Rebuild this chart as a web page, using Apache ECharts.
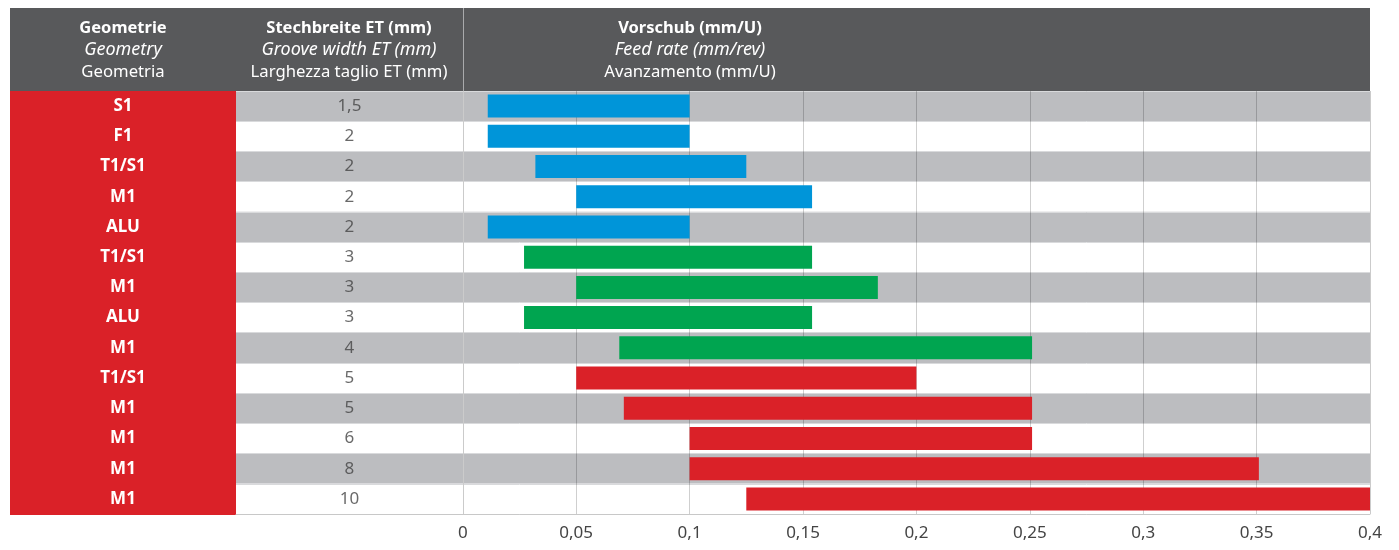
<!DOCTYPE html>
<html>
<head>
<meta charset="utf-8">
<script src="https://cdn.jsdelivr.net/npm/echarts@6/dist/echarts.min.js"></script>
<style>
html,body{margin:0;padding:0;background:#fff;}
#chart{width:1399px;height:550px;}
</style>
</head>
<body>
<div id="chart"></div>
<script>
// ---- data ----
var geometry = ['S1','F1','T1/S1','M1','ALU','T1/S1','M1','ALU','M1','T1/S1','M1','M1','M1','M1'];
var grooveWidth = ['1,5','2','2','2','2','3','3','3','4','5','5','6','8','10'];
var feedMin = [0.011,0.011,0.032,0.05,0.011,0.027,0.05,0.027,0.069,0.05,0.071,0.1,0.1,0.125];
var feedMax = [0.1,0.1,0.125,0.154,0.1,0.154,0.183,0.154,0.251,0.2,0.251,0.251,0.351,0.4];
var xTicks = [0,0.05,0.1,0.15,0.2,0.25,0.3,0.35,0.4];
var headers = [
  ['Geometrie','Geometry','Geometria'],
  ['Stechbreite ET (mm)','Groove width ET (mm)','Larghezza taglio ET (mm)'],
  ['Vorschub (mm/U)','Feed rate (mm/rev)','Avanzamento (mm/U)']
];

var FONT = 'Noto Sans';
var BLUE = '#0095d9', GREEN = '#00a550', RED = '#da2128';
function widthNum(s){ return parseFloat(s.replace(',', '.')); }
function barColor(i){
  var w = widthNum(grooveWidth[i]);
  return w < 3 ? BLUE : (w < 5 ? GREEN : RED);
}

var chart = echarts.init(document.getElementById('chart'));

var splitColors = ['rgba(0,0,0,0)','rgba(0,0,0,0)','#cbcbcb'];
for (var k = 1; k < xTicks.length - 1; k++) splitColors.push('rgba(0,0,0,0.19)');
splitColors.push('#cbcbcb');

var headerCenters = [123, 349, 690];
var graphics = [
  {type:'rect', shape:{x:10,y:8,width:1360,height:83}, style:{fill:'#58595b'}, z:10},
  {type:'line', shape:{x1:463.5,y1:8,x2:463.5,y2:91}, style:{stroke:'#a9aaac',lineWidth:1}, z:11},
  {type:'rect', shape:{x:10,y:91,width:226,height:424}, style:{fill:RED}, z:-1}
];
var headerStyles = [
  {st:'normal', w:'bold', size:16.5},
  {st:'italic', w:'normal', size:18},
  {st:'normal', w:'normal', size:16.7}
];
headers.forEach(function(h, c){
  var ys = [28, 50, 72];
  h.forEach(function(t, r){
    var s = headerStyles[r];
    graphics.push({type:'text', x:headerCenters[c], y:ys[r], z:12,
      style:{text:t, fill:'#ffffff', font: s.st+' '+s.w+' '+s.size+'px "'+FONT+'"',
        textAlign:'center', textVerticalAlign:'middle'}});
  });
});

var option = {
  animation:false,
  backgroundColor:'#ffffff',
  grid:{left:236, right:29, top:91, bottom:36, containLabel:false},
  xAxis:{
    type:'value', min:-0.1, max:0.4, interval:0.05, z:1,
    axisLine:{show:true, onZero:false, lineStyle:{color:'#c8c8c8', width:1}},
    axisTick:{show:false},
    axisLabel:{margin:11, color:'#444', fontSize:17, fontFamily:FONT,
      formatter:function(v){ if (v < -1e-9) return ''; return String(parseFloat(v.toFixed(3))).replace('.', ','); }},
    splitLine:{show:true, lineStyle:{color:splitColors, width:1}}
  },
  yAxis:{
    type:'category', inverse:true, data:geometry, z:0,
    axisLine:{show:false}, axisTick:{show:false},
    axisLabel:{margin:113, align:'center', color:'#ffffff', fontWeight:'bold', fontSize:17, fontFamily:FONT,
      formatter:function(v, i){ return geometry[i]; }},
    splitLine:{show:true, lineStyle:{color:'#d9dadc', width:1}},
    splitArea:{show:true, areaStyle:{color:['#bcbdc0','#ffffff']}}
  },
  series:[
    {type:'bar', stack:'feed', barWidth:23, silent:true, itemStyle:{color:'rgba(0,0,0,0)'},
      data: feedMin.slice(), z:2},
    {type:'bar', stack:'feed', barWidth:23, z:3,
      data: feedMax.map(function(v, i){ return {value: +(v - feedMin[i]).toFixed(4), itemStyle:{color:barColor(i)}}; })},
    {type:'scatter', symbolSize:0, z:4, silent:true,
      data: grooveWidth.map(function(w, i){ return [-0.05, i]; }),
      label:{show:true, position:'inside', color:'#444', fontSize:17, fontFamily:FONT,
        formatter:function(p){ return grooveWidth[p.dataIndex]; }}}
  ],
  graphic: graphics
};
chart.setOption(option);
</script>
</body>
</html>
